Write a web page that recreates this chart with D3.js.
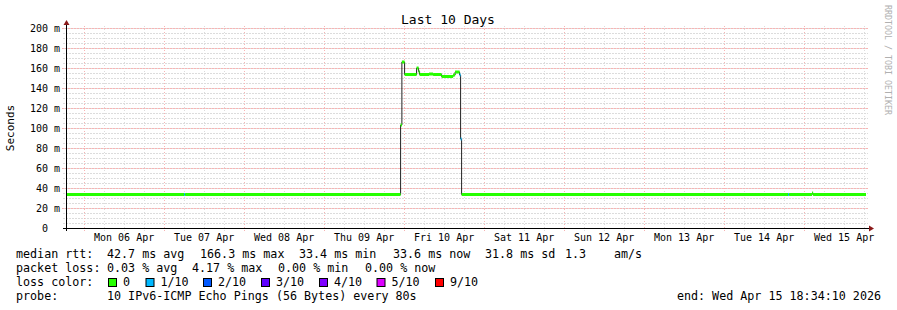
<!DOCTYPE html>
<html>
<head>
<meta charset="utf-8">
<script src="https://cdn.jsdelivr.net/npm/d3@7"></script>
<style>
  body { margin: 0; background: #fff; }
  text { font-family: "DejaVu Sans Mono", monospace; fill: #000; white-space: pre; }
</style>
</head>
<body>
<script>
// median rtt steps (time the step starts, seconds in ms units, lost pings of 10)
var times = ["2026-04-05 18:34", "2026-04-07 06:00", "2026-04-07 06:18", "2026-04-09 22:57",
             "2026-04-09 23:20", "2026-04-10 00:09", "2026-04-10 03:45", "2026-04-10 04:21",
             "2026-04-10 04:39", "2026-04-10 07:30", "2026-04-10 08:42", "2026-04-10 11:15",
             "2026-04-10 14:42", "2026-04-10 15:18", "2026-04-10 16:39", "2026-04-10 16:57",
             "2026-04-10 17:15", "2026-04-14 19:12", "2026-04-14 19:30", "2026-04-15 02:24",
             "2026-04-15 02:42", "2026-04-15 18:34"];
var rtt = [33.5, 33.5, 33.5, 103, 166, 153.5, 160, 156.5, 153.5, 154, 153.5, 151.5,
           153, 156, 153, 89, 33.5, 33.5, 33.5, 35, 33.5, 33.5];
var loss = [0, 1, 0, 0, 0, 0, 0, 0, 0, 0, 0, 0, 0, 0, 1, 1, 0, 1, 0, 0, 0, 0];

var dayLabels = ["Mon 06 Apr", "Tue 07 Apr", "Wed 08 Apr", "Thu 09 Apr", "Fri 10 Apr",
                 "Sat 11 Apr", "Sun 12 Apr", "Mon 13 Apr", "Tue 14 Apr", "Wed 15 Apr"];
var yTicks = [0, 20, 40, 60, 80, 100, 120, 140, 160, 180, 200];
var yLabels = ["0  ", "20 m", "40 m", "60 m", "80 m", "100 m", "120 m", "140 m", "160 m", "180 m", "200 m"];

var lossNames = ["0", "1/10", "2/10", "3/10", "4/10", "5/10", "9/10"];
var lossColors = ["#26ff00", "#00b8ff", "#0059ff", "#5e00ff", "#7e00ff", "#dd00ff", "#ff0000"];

var rttLegend = ["median rtt:", "42.7 ms avg", "166.3 ms max", "33.4 ms min", "33.6 ms now", "31.8 ms sd", "1.3", "am/s"];
var lossLegend = ["packet loss:", "0.03 % avg", "4.17 % max", "0.00 % min", "0.00 % now"];
var probeText = "10 IPv6-ICMP Echo Pings (56 Bytes) every 80s";
var endText = "end: Wed Apr 15 18:34:10 2026";

var width = 897, height = 310;
var parse = d3.timeParse("%Y-%m-%d %H:%M");
var parseS = d3.timeParse("%Y-%m-%d %H:%M:%S");
var start = parseS("2026-04-05 18:34:10"), end = parseS("2026-04-15 18:34:10");

var x = d3.scaleTime().domain([start, end]).range([66, 866]);
var y = d3.scaleLinear().domain([0, 200]).range([228, 28]);

var svg = d3.select("body").append("svg")
            .attr("width", width)
            .attr("height", height);

// grid: minor every 6h / 5 ms, major every day / 20 ms
var minorT = d3.timeHour.every(6).range(start, end);
var majorT = d3.timeDay.every(1).range(start, end);
var minorY = d3.range(5, 201, 5);
var minorColor = "#dcdcdc", majorColor = "#f8b4b4";

svg.append("g").selectAll("line").data(minorT).join("line")
   .attr("x1", d => Math.round(x(d)) + 0.5).attr("x2", d => Math.round(x(d)) + 0.5)
   .attr("y1", 26).attr("y2", 231)
   .attr("stroke", minorColor).attr("stroke-dasharray", "1,2");
svg.append("g").selectAll("line").data(minorY).join("line")
   .attr("x1", 63).attr("x2", 868)
   .attr("y1", d => Math.round(y(d)) + 0.5).attr("y2", d => Math.round(y(d)) + 0.5)
   .attr("stroke", minorColor).attr("stroke-dasharray", "2,1");
svg.append("g").selectAll("line").data(majorT).join("line")
   .attr("x1", d => Math.round(x(d)) + 0.5).attr("x2", d => Math.round(x(d)) + 0.5)
   .attr("y1", 26).attr("y2", 232)
   .attr("stroke", majorColor).attr("stroke-dasharray", "1,2");
svg.append("g").selectAll("line").data(yTicks.slice(1)).join("line")
   .attr("x1", 62).attr("x2", 868)
   .attr("y1", d => Math.round(y(d)) + 0.5).attr("y2", d => Math.round(y(d)) + 0.5)
   .attr("stroke", majorColor).attr("stroke-dasharray", "2,1");

// data
var pts = times.map((t, i) => ({t: parse(t), v: rtt[i], l: loss[i]}));
pts[0].t = start;
pts[pts.length - 1].t = end;

var stepLine = d3.line()
                 .x(d => x(d.t))
                 .y(d => y(d.v))
                 .curve(d3.curveStepAfter);
svg.append("path")
   .datum(pts)
   .attr("d", stepLine)
   .attr("fill", "none")
   .attr("stroke", "#202020")
   .attr("stroke-width", 1);

var lossIndex = function(l) { return l >= 9 ? 6 : Math.min(l, 5); };
svg.append("g").selectAll("line").data(pts.slice(0, -1)).join("line")
   .attr("x1", d => x(d.t))
   .attr("x2", (d, i) => x(pts[i + 1].t))
   .attr("y1", d => y(d.v)).attr("y2", d => y(d.v))
   .attr("stroke", d => lossColors[lossIndex(d.l)])
   .attr("stroke-width", 3);

// axes
svg.append("line").attr("x1", 63).attr("x2", 870).attr("y1", 228.5).attr("y2", 228.5)
   .attr("stroke", "#000");
svg.append("line").attr("x1", 66.5).attr("x2", 66.5).attr("y1", 231).attr("y2", 24)
   .attr("stroke", "#000");
svg.append("path").attr("d", "M869,225.5L874,228.5L869,231.5Z").attr("fill", "#8b1a1a");
svg.append("path").attr("d", "M63.5,25L66.5,20L69.5,25Z").attr("fill", "#8b1a1a");

// labels
svg.append("g").selectAll("text").data(yTicks).join("text")
   .attr("x", 60).attr("y", d => y(d) + 3.5)
   .attr("text-anchor", "end")
   .style("font-size", "10px")
   .text((d, i) => yLabels[i]);

var day0 = d3.timeDay.ceil(start);
svg.append("g").selectAll("text").data(dayLabels).join("text")
   .attr("x", (d, i) => x(d3.timeHour.offset(day0, 24 * i + 12)))
   .attr("y", 241)
   .attr("text-anchor", "middle")
   .style("font-size", "10px")
   .text(d => d);

svg.append("text")
   .attr("x", 448).attr("y", 24)
   .attr("text-anchor", "middle")
   .style("font-size", "13px")
   .text("Last 10 Days");

svg.append("text")
   .attr("transform", "translate(14,128) rotate(-90)")
   .attr("text-anchor", "middle")
   .style("font-size", "11px")
   .text("Seconds");

svg.append("text")
   .attr("transform", "translate(884.5,5) rotate(90)")
   .style("font-size", "8.3px")
   .style("fill", "#b0b0b0")
   .text("RRDTOOL / TOBI OETIKER");

// legend
var legendSize = "11.7px";
var rttX = [16, 107, 200, 299, 393, 485, 565, 614];
svg.append("g").selectAll("text").data(rttLegend).join("text")
   .attr("x", (d, i) => rttX[i]).attr("y", 258)
   .style("font-size", legendSize)
   .text(d => d);

var lossX = [16, 107, 192, 278, 365];
svg.append("g").selectAll("text").data(lossLegend).join("text")
   .attr("x", (d, i) => lossX[i]).attr("y", 272)
   .style("font-size", legendSize)
   .text(d => d);

svg.append("text").attr("x", 16).attr("y", 286).style("font-size", legendSize).text("loss color:");
var boxX = [108, 145.5, 203, 261, 319, 376.5, 435];
var lg = svg.append("g").selectAll("g").data(lossNames).join("g")
            .attr("transform", (d, i) => "translate(" + boxX[i] + ",278)");
lg.append("rect")
  .attr("x", 0.5).attr("y", 0.5).attr("width", 8).attr("height", 8)
  .attr("fill", (d, i) => lossColors[i])
  .attr("stroke", "#000");
lg.append("text")
  .attr("x", 15).attr("y", 8)
  .style("font-size", legendSize)
  .text(d => d);

svg.append("text").attr("x", 16).attr("y", 300).style("font-size", legendSize).text("probe:");
svg.append("text").attr("x", 107).attr("y", 300).style("font-size", legendSize).text(probeText);
svg.append("text").attr("x", 881).attr("y", 300).attr("text-anchor", "end")
   .style("font-size", legendSize).text(endText);
</script>
</body>
</html>
